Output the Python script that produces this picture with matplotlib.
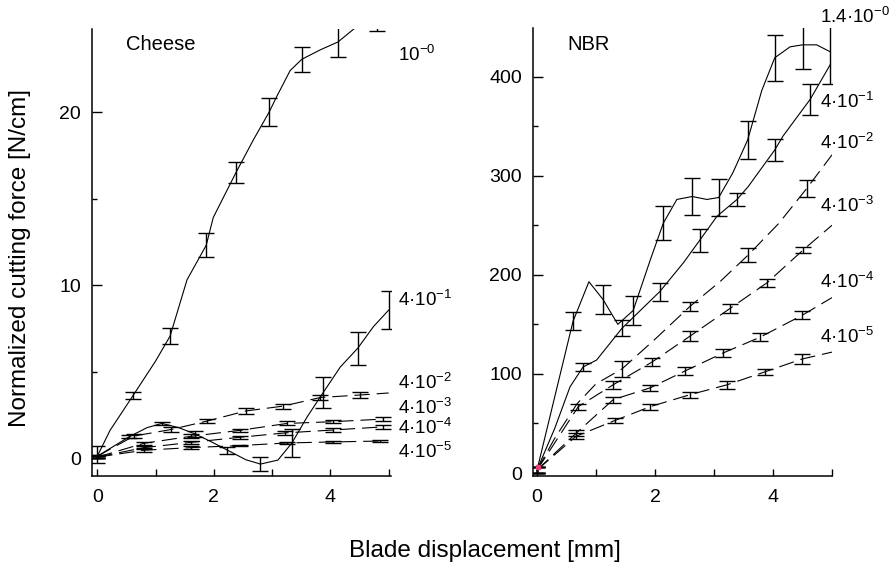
import matplotlib
matplotlib.use("Agg")
import matplotlib.pyplot as plt
from matplotlib.ticker import MultipleLocator

plt.rcParams["font.family"] = ["Liberation Sans", "DejaVu Sans"]
plt.rcParams["mathtext.fontset"] = "custom"
plt.rcParams["mathtext.rm"] = "Liberation Sans"
plt.rcParams["mathtext.it"] = "Liberation Sans"
plt.rcParams["mathtext.bf"] = "Liberation Sans"
plt.rcParams["lines.scale_dashes"] = False

# ---------------- Cheese (blade displacement mm, force N/cm) ----------------
cheese_labels = ["10$^{-0}$", "4·10$^{-1}$", "4·10$^{-2}$", "4·10$^{-3}$", "4·10$^{-4}$", "4·10$^{-5}$"]
cheese_label_y = [23.3, 9.13, 4.34, 2.89, 1.73, 0.35]
cheese_styles = ["solid", "solid", "dashed", "dashed", "dashed", "dashed"]

# traced curves
cheese_curve_x = [
    [0, 0.22, 0.62, 1.0, 1.25, 1.54, 1.87, 1.99, 2.23, 2.38, 2.68, 2.95, 3.08, 3.31, 3.51, 3.83, 4.13, 4.42, 4.8],
    [0, 0.55, 0.85, 1.11, 1.4, 1.68, 1.95, 2.23, 2.55, 2.8, 3.1, 3.34, 3.6, 3.88, 4.17, 4.47, 4.74, 5.0],
    [0, 0.63, 1.27, 1.89, 2.55, 3.19, 3.83, 4.5, 5.0],
    [0, 0.8, 1.6, 2.45, 3.26, 4.05, 4.9],
    [0, 0.8, 1.6, 2.45, 3.22, 4.05, 4.9],
    [0, 0.8, 1.6, 2.45, 3.26, 4.05, 4.85],
]
cheese_curve_y = [
    [0.1, 1.6, 3.64, 5.6, 7.05, 10.3, 12.3, 13.9, 15.5, 16.5, 18.4, 20.0, 20.9, 22.4, 23.05, 23.6, 24.05, 24.85, 25.6],
    [0.1, 1.23, 1.75, 2.0, 1.75, 1.39, 0.95, 0.46, -0.1, -0.35, -0.12, 0.87, 2.37, 3.8, 5.26, 6.35, 7.6, 8.55],
    [0.1, 1.27, 1.65, 2.14, 2.72, 3.0, 3.5, 3.64, 3.76],
    [0.05, 0.85, 1.25, 1.6, 2.0, 2.1, 2.25],
    [0.05, 0.6, 0.9, 1.2, 1.45, 1.62, 1.8],
    [0.05, 0.45, 0.6, 0.72, 0.87, 0.93, 0.98],
]
# measured means with standard deviations
cheese_err_x = [
    [0, 0.62, 1.25, 1.87, 2.38, 2.95, 3.51, 4.13, 4.8],
    [0, 0.55, 1.11, 1.68, 2.23, 2.8, 3.34, 3.88, 4.47, 5.0],
    [0, 0.63, 1.27, 1.89, 2.55, 3.19, 3.83, 4.5],
    [0, 0.8, 1.6, 2.45, 3.26, 4.05, 4.9],
    [0, 0.8, 1.6, 2.45, 3.22, 4.05, 4.9],
    [0, 0.8, 1.6, 2.45, 3.26, 4.05, 4.85],
]
cheese_err_y = [
    [0.2, 3.64, 7.05, 12.3, 16.5, 20.0, 23.05, 24.05, 25.5],
    [0.1, 1.23, 2.0, 1.39, 0.46, -0.35, 0.87, 3.8, 6.35, 8.55],
    [0.1, 1.27, 1.65, 2.14, 2.72, 3.0, 3.5, 3.64],
    [0.05, 0.85, 1.25, 1.6, 2.0, 2.1, 2.25],
    [0.05, 0.6, 0.9, 1.2, 1.45, 1.62, 1.8],
    [0.05, 0.45, 0.6, 0.72, 0.87, 0.93, 0.98],
]
cheese_err = [
    [0.5, 0.2, 0.45, 0.7, 0.6, 0.8, 0.72, 0.84, 0.8],
    [0.1, 0.1, 0.08, 0.15, 0.2, 0.4, 0.8, 0.9, 0.96, 1.1],
    [0.1, 0.12, 0.12, 0.1, 0.15, 0.15, 0.15, 0.18],
    [0.05, 0.1, 0.12, 0.1, 0.12, 0.1, 0.1],
    [0.05, 0.1, 0.1, 0.08, 0.1, 0.1, 0.1],
    [0.05, 0.1, 0.08, 0.05, 0.05, 0.05, 0.05],
]

# ---------------- NBR ----------------
nbr_labels = ["1.4·10$^{-0}$", "4·10$^{-1}$", "4·10$^{-2}$", "4·10$^{-3}$", "4·10$^{-4}$", "4·10$^{-5}$"]
nbr_label_y = [460, 374, 333, 269, 193, 137]
nbr_styles = ["solid", "solid", "dashed", "dashed", "dashed", "dashed"]

nbr_curve_x = [
    [0, 0.61, 0.88, 1.12, 1.37, 1.63, 1.92, 2.14, 2.37, 2.63, 2.88, 3.08, 3.32, 3.57, 3.81, 4.03, 4.29, 4.5, 4.74, 4.97],
    [0, 0.3, 0.56, 0.78, 1.01, 1.44, 2.08, 2.48, 2.76, 3.05, 3.39, 3.58, 4.03, 4.17, 4.63, 4.97],
    [0, 0.3, 0.68, 1.0, 1.44, 2.0, 2.59, 3.1, 3.58, 4.1, 4.57, 5.0],
    [0, 0.7, 1.29, 1.95, 2.59, 3.27, 3.9, 4.51, 5.0],
    [0, 0.66, 1.29, 1.92, 2.51, 3.15, 3.78, 4.49, 5.0],
    [0, 0.66, 1.32, 1.92, 2.59, 3.22, 3.86, 4.49, 5.0],
]
nbr_curve_y = [
    [3, 153, 193, 175, 150, 164, 215, 252, 276, 279, 276, 278, 303, 336, 386, 419, 430, 432, 432, 425],
    [3, 45, 87, 107, 114, 146, 183, 212, 235, 259, 276, 289, 326, 340, 377, 412],
    [3, 35, 70, 90, 105, 135, 168, 193, 220, 252, 287, 321],
    [3, 67, 89, 112, 138, 166, 192, 225, 250],
    [3, 40, 74, 86, 103, 121, 137, 159, 177],
    [3, 37, 53, 67, 79, 89, 102, 115, 122],
]
nbr_err_x = [
    [0, 0.61, 1.12, 1.63, 2.14, 2.63, 3.08, 3.57, 4.03, 4.5, 4.97],
    [0, 0.78, 1.44, 2.08, 2.76, 3.39, 4.03, 4.63],
    [0, 1.44, 2.59, 3.58, 4.57],
    [0, 0.7, 1.29, 1.95, 2.59, 3.27, 3.9, 4.51],
    [0, 0.66, 1.29, 1.92, 2.51, 3.15, 3.78, 4.49],
    [0, 0.66, 1.32, 1.92, 2.59, 3.22, 3.86, 4.49],
]
nbr_err_y = [
    [3, 153, 175, 164, 252, 279, 278, 336, 419, 432, 425],
    [3, 107, 146, 183, 235, 276, 326, 377],
    [3, 105, 168, 220, 287],
    [3, 67, 89, 112, 138, 166, 192, 225],
    [3, 40, 74, 86, 103, 121, 137, 159],
    [3, 37, 53, 67, 79, 89, 102, 115],
]
nbr_err = [
    [3, 9, 15, 15, 17, 19, 19, 19, 23, 24.5, 33],
    [3, 4, 8, 9, 11.5, 7, 11, 16],
    [3, 8, 5, 7, 9],
    [3, 3, 4, 4, 5, 5, 4, 3],
    [3, 3, 3, 3, 4, 4, 4, 4],
    [3, 3, 3, 3, 3, 4, 3, 5],
]

FIG_W, FIG_H = 891, 566
fig = plt.figure(figsize=(FIG_W / 100, FIG_H / 100), dpi=100)
ax1 = fig.add_axes([92 / FIG_W, 1 - 476 / FIG_H, 299 / FIG_W, 447 / FIG_H])
ax2 = fig.add_axes([533 / FIG_W, 1 - 476 / FIG_H, 299 / FIG_W, 448 / FIG_H])

dash = (0, (11, 5))
LW = 0.8


def draw_panel(ax, cx, cy, ex, ey, ee, styles, labels, label_y, label_x):
    for i in range(len(cx)):
        ls = "-" if styles[i] == "solid" else dash
        ax.plot(cx[i], cy[i], color="black", lw=LW, linestyle=ls)
        ax.errorbar(ex[i], ey[i], yerr=ee[i], fmt="none", ecolor="black",
                    elinewidth=1.0, capsize=5.5, capthick=1.0)
        ax.text(label_x, label_y[i], labels[i], fontsize=13.5, ha="left",
                va="center", clip_on=False)


def style_axes(ax, ymaj, ymin_step):
    for s in ("top", "right"):
        ax.spines[s].set_visible(False)
    for s in ("left", "bottom"):
        ax.spines[s].set_linewidth(1.1)
    ax.xaxis.set_major_locator(MultipleLocator(2))
    ax.xaxis.set_minor_locator(MultipleLocator(1))
    ax.yaxis.set_major_locator(MultipleLocator(ymaj))
    ax.yaxis.set_minor_locator(MultipleLocator(ymin_step))
    ax.tick_params(axis="x", which="both", direction="in", length=5, width=1.0,
                   labelsize=14, pad=9)
    ax.tick_params(axis="y", which="major", direction="in", length=7.5, width=1.0,
                   labelsize=14, pad=8)
    ax.tick_params(axis="y", which="minor", direction="in", length=3.6, width=1.0)


draw_panel(ax1, cheese_curve_x, cheese_curve_y, cheese_err_x, cheese_err_y, cheese_err,
           cheese_styles, cheese_labels, cheese_label_y, 5.16)
ax1.set_xlim(-0.09, 5.04)
ax1.set_ylim(-1.04, 24.8)
style_axes(ax1, 10, 5)
ax1.text(0.5, 23.9, "Cheese", fontsize=14.5, ha="left", va="center")

draw_panel(ax2, nbr_curve_x, nbr_curve_y, nbr_err_x, nbr_err_y, nbr_err,
           nbr_styles, nbr_labels, nbr_label_y, 4.8)
ax2.plot([0.02], [6], marker="s", ms=3, color="#e0407a", ls="none")
ax2.set_xlim(-0.068, 5.0)
ax2.set_ylim(-3, 449)
style_axes(ax2, 100, 50)
ax2.text(0.51, 432, "NBR", fontsize=14.5, ha="left", va="center")

fig.text(20 / FIG_W, 1 - 258 / FIG_H, "Normalized cutting force [N/cm]", rotation=90,
         fontsize=17.5, ha="center", va="center")
fig.text(485 / FIG_W, 1 - 551 / FIG_H, "Blade displacement [mm]",
         fontsize=17.5, ha="center", va="center")

fig.savefig("out.png", dpi=100)
